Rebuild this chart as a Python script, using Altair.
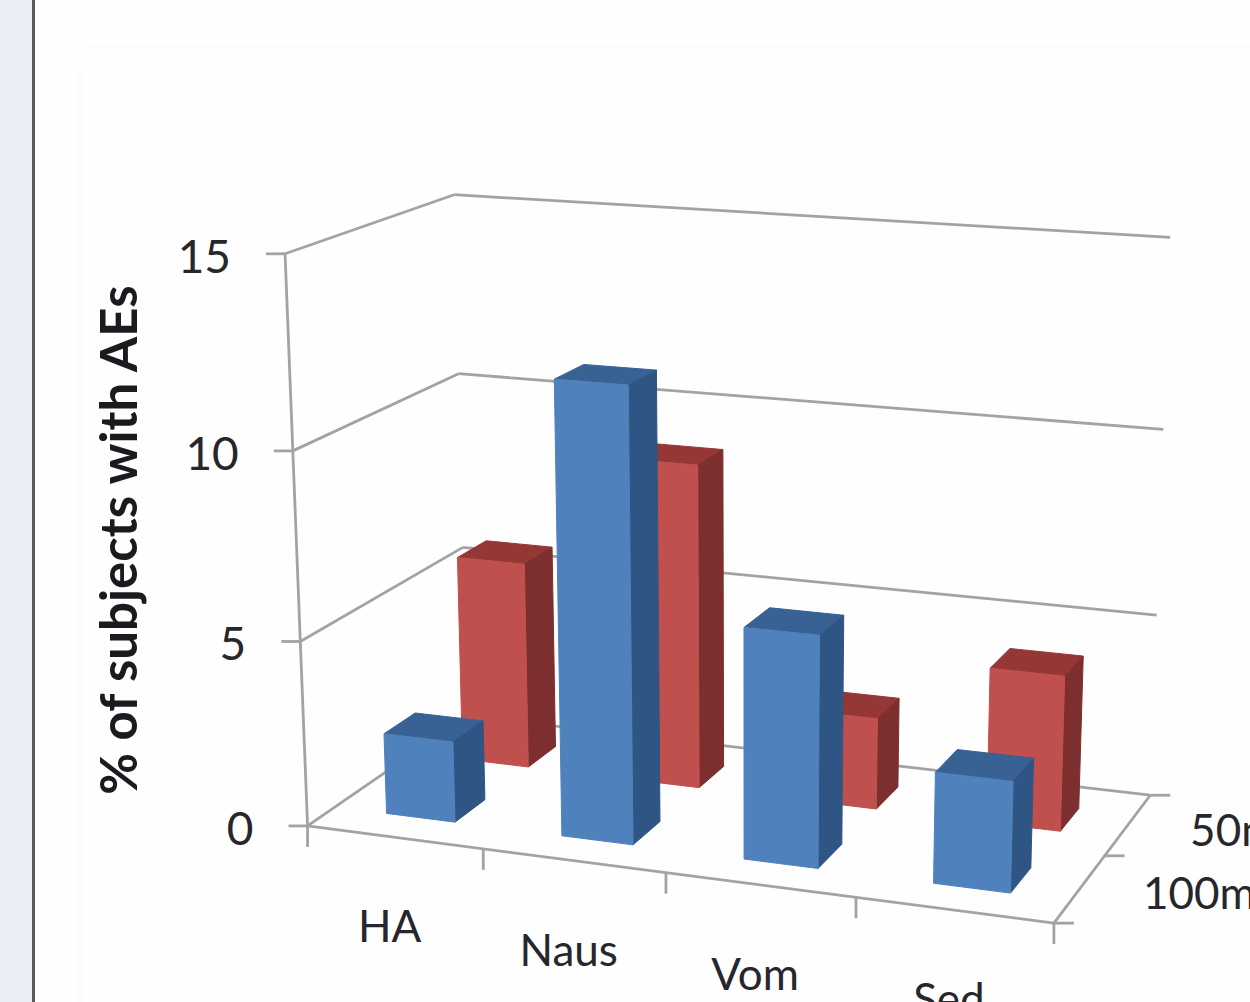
import altair as alt
import numpy as np
import pandas as pd

# Chart content
categories = ["HA", "Naus", "Vom", "Sed"]
doses = ["100mg", "50mg"]
dose_100 = [2.2, 12.0, 6.1, 2.9]
dose_50 = [5.75, 8.9, 2.5, 4.2]
value_ticks = [0, 5, 10, 15]
value_title = "% of subjects with AEs"

WIDTH, HEIGHT = 1250, 1002
FONT = "Lato"
TEXT = "#26262b"
GRID = "#a3a3a3"

# Perspective camera: (category position, depth, value) -> page pixel.
# Calibrated against the corners of the plot box.
calibration = [
    (0, 0, 0, 306, 827), (0, 0, 5, 300, 639), (0, 0, 10, 294, 451), (0, 0, 15, 286, 255),
    (1, 0, 0, 482, 850), (2, 0, 0, 667, 873), (3, 0, 0, 855, 897), (4, 0, 0, 1055, 922),
    (0, 1, 0, 470, 716), (0, 1, 5, 463, 547), (0, 1, 10, 458, 373), (0, 1, 15, 452, 195),
    (4, 1, 0, 1148, 796), (4, 1, 5, 1157, 616), (4, 1, 10, 1165, 428), (4, 1, 15, 1170, 238),
]
rows, rhs = [], []
for u, d, h, px, py in calibration:
    rows.append([u, d, h, 1, 0, 0, 0, 0, -px * u, -px * d, -px * h])
    rhs.append(px)
    rows.append([0, 0, 0, 0, u, d, h, 1, -py * u, -py * d, -py * h])
    rhs.append(py)
camera = np.append(np.linalg.lstsq(np.array(rows, float), np.array(rhs, float), rcond=None)[0], 1).reshape(3, 4)


def project(u, d, h):
    p = camera @ np.array([u, d, h, 1.0])
    return float(p[0] / p[2]), float(p[1] / p[2])


# Axes, grid and tick marks
segments = []


def segment(a, b):
    sid = len(segments)
    segments.append({"sid": sid, "k": 0, "x": a[0], "y": a[1]})
    segments.append({"sid": sid, "k": 1, "x": b[0], "y": b[1]})


for v in value_ticks:
    front, back_left, back_right = project(0, 0, v), project(0, 1, v), project(4, 1, v)
    segment(front, back_left)
    segment(back_left, back_right)
    segment((front[0] - 19, front[1]), front)
segment(project(0, 0, 0), project(0, 0, 15))
segment(project(0, 0, 0), project(4, 0, 0))
segment(project(4, 0, 0), project(4, 1, 0))
for i in range(len(categories) + 1):
    p = project(i, 0, 0)
    segment(p, (p[0], p[1] + 21))
for d in (0, 0.5, 1):
    p = project(4, d, 0)
    segment(p, (p[0] + 20, p[1]))

# Bar faces, painted from the back row to the front row
BAR_U = (0.30, 0.695)
ROWS = [
    (dose_50, (0.64, 0.83), ("#c0504d", "#953735", "#7c2f2e")),
    (dose_100, (0.16, 0.35), ("#4f81bd", "#386293", "#2f5585")),
]
faces = []
face_count = 0
for values, (d0, d1), (front_c, top_c, side_c) in ROWS:
    for i, v in enumerate(values):
        u0, u1 = i + BAR_U[0], i + BAR_U[1]
        for corners, colour in (
            ([(u0, d0, v), (u1, d0, v), (u1, d1, v), (u0, d1, v)], top_c),
            ([(u1, d0, 0), (u1, d1, 0), (u1, d1, v), (u1, d0, v)], side_c),
            ([(u0, d0, 0), (u1, d0, 0), (u1, d0, v), (u0, d0, v)], front_c),
        ):
            for k, c in enumerate(corners):
                x, y = project(*c)
                faces.append({"fid": f"{face_count:03d}", "k": k, "x": x, "y": y, "colour": colour})
            face_count += 1

# Text anchored to the projected axes
value_labels = [
    {"x": project(0, 0, v)[0] - 54, "y": project(0, 0, v)[1] + 5, "t": str(v)} for v in value_ticks
]
cat_labels = []
for i, c in enumerate(categories):
    p = project(i + 0.5, 0, 0)
    cat_labels.append({"x": p[0] - 5, "y": p[1] + 92, "t": c})
dose_labels = []
for t, d in zip(doses, (0.25, 0.74)):
    p = project(4, d, 0)
    dose_labels.append({"x": p[0] + 63, "y": p[1] + 7, "t": t})

X = alt.X("x:Q", axis=None, scale=alt.Scale(domain=[0, WIDTH], range=[0, WIDTH], clamp=False))
Y = alt.Y("y:Q", axis=None, scale=alt.Scale(domain=[0, HEIGHT], range=[0, HEIGHT], clamp=False))

# Page furniture to the left of and around the panel
strip = alt.Chart(pd.DataFrame([{"x": 0, "x2": 32, "y": 0, "y2": HEIGHT}])).mark_rect(color="#eaeef4").encode(
    X, alt.X2("x2"), Y, alt.Y2("y2")
)
edge = alt.Chart(pd.DataFrame([{"x": 33.5, "y": 0, "y2": HEIGHT}])).mark_rule(color="#5a5a5a", strokeWidth=3).encode(
    X, Y, alt.Y2("y2")
)
panel = pd.DataFrame(
    [
        {"sid": 0, "k": 0, "x": 90, "y": 46},
        {"sid": 0, "k": 1, "x": WIDTH, "y": 46},
        {"sid": 1, "k": 0, "x": 80, "y": 70},
        {"sid": 1, "k": 1, "x": 80, "y": HEIGHT},
    ]
)
panel_edge = alt.Chart(panel).mark_line(color="#fafafa", strokeWidth=2).encode(X, Y, detail="sid:N", order="k:Q")

grid = alt.Chart(pd.DataFrame(segments)).mark_line(color=GRID, strokeWidth=2.8).encode(
    X, Y, detail="sid:N", order="k:Q"
)
bars = alt.Chart(pd.DataFrame(faces)).mark_line(filled=True, interpolate="linear-closed", strokeWidth=1).encode(
    X,
    Y,
    detail="fid:N",
    order="k:Q",
    fill=alt.Fill("colour:N", scale=None),
    stroke=alt.Stroke("colour:N", scale=None),
)


def text_layer(rows, align, size):
    return alt.Chart(pd.DataFrame(rows)).mark_text(
        font=FONT, fontSize=size, color=TEXT, align=align, baseline="middle"
    ).encode(X, Y, text="t:N")


axis_title = alt.Chart(pd.DataFrame([{"x": 122, "y": 540, "t": value_title}])).mark_text(
    font=FONT, fontSize=51, fontWeight="bold", color="#1a1a1f", angle=270, align="center", baseline="middle"
).encode(X, Y, text="t:N")

chart = alt.layer(
    strip,
    edge,
    panel_edge,
    grid,
    bars,
    text_layer(value_labels, "right", 46),
    text_layer(cat_labels, "center", 44),
    text_layer(dose_labels, "left", 44),
    axis_title,
).properties(
    width=WIDTH,
    height=HEIGHT,
    autosize=alt.AutoSizeParams(type="none"),
    padding=0,
    background="#fefefe",
).configure_view(stroke=None)

chart.save("out.html", embed_options={"renderer": "svg", "actions": False})
